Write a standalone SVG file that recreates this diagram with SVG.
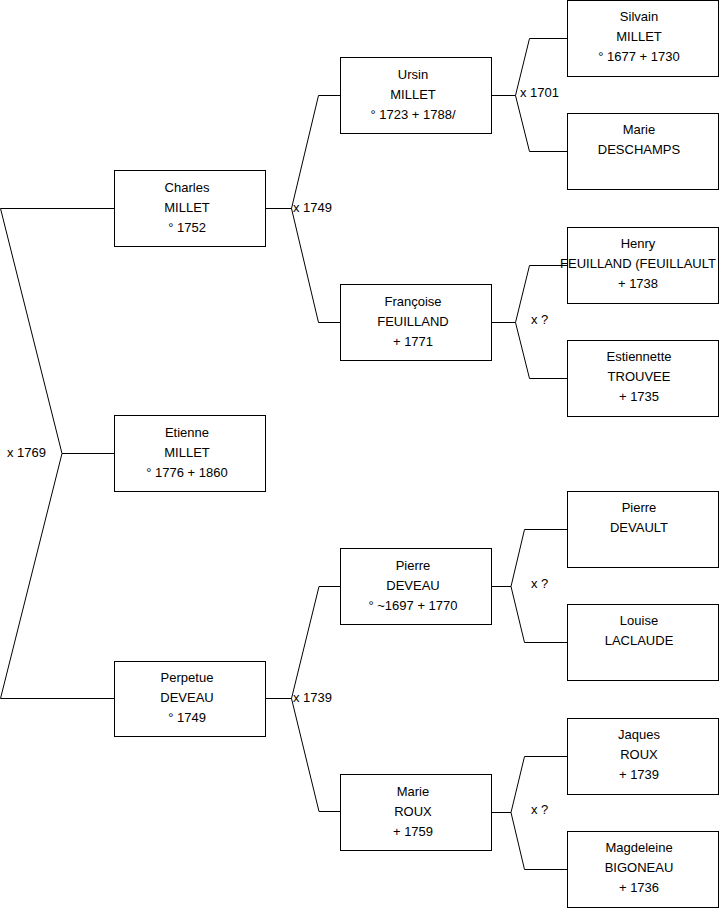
<svg xmlns="http://www.w3.org/2000/svg" width="719" height="908" viewBox="0 0 719 908">
<style>
rect.box{fill:#fff;stroke:#000;stroke-width:1}
.c{fill:none;stroke:#000;stroke-width:1}
text{font-family:"Liberation Sans",Arial,sans-serif;font-size:13px;fill:#000}
.n text{text-anchor:middle}
</style>
<rect width="719" height="908" fill="#fff"/>
<g id="connectors">
<polyline class="c" points="114,208.5 0.5,208.5 62,453.5 0.5,698.5 114,698.5"/>
<line class="c" x1="62" y1="453.5" x2="114" y2="453.5"/>
<polyline class="c" points="340,95.5 318.5,95.5 291.5,208.5 318.5,322.5 340,322.5"/>
<line class="c" x1="265" y1="208.5" x2="291.5" y2="208.5"/>
<polyline class="c" points="340,586.5 319,586.5 291.5,698.5 319,811.5 340,811.5"/>
<line class="c" x1="265" y1="698.5" x2="291.5" y2="698.5"/>
<polyline class="c" points="567,38.5 529.5,38.5 515.5,95.5 529.5,151.5 567,151.5"/>
<line class="c" x1="491" y1="95.5" x2="515.5" y2="95.5"/>
<polyline class="c" points="567,265.5 529.5,265.5 515.5,322.5 529.5,378.5 567,378.5"/>
<line class="c" x1="491" y1="322.5" x2="515.5" y2="322.5"/>
<polyline class="c" points="567,529.5 524.5,529.5 511,586.5 524.5,642.5 567,642.5"/>
<line class="c" x1="491" y1="586.5" x2="511" y2="586.5"/>
<polyline class="c" points="567,756.5 524.5,756.5 511,812.5 524.5,869.5 567,869.5"/>
<line class="c" x1="491" y1="812.5" x2="511" y2="812.5"/>
<text x="7" y="457">x 1769</text>
<text x="293" y="212">x 1749</text>
<text x="293" y="702">x 1739</text>
<text x="520" y="97">x 1701</text>
<text x="531" y="324">x ?</text>
<text x="531" y="588">x ?</text>
<text x="531" y="814">x ?</text>
</g>
<g id="etienne" class="n"><rect class="box" x="114.5" y="415.5" width="151" height="76"/><text x="187" y="437">Etienne</text><text x="187" y="457">MILLET</text><text x="187" y="477">° 1776 + 1860</text></g>
<g id="charles" class="n"><rect class="box" x="114.5" y="170.5" width="151" height="76"/><text x="187" y="192">Charles</text><text x="187" y="212">MILLET</text><text x="187" y="232">° 1752</text></g>
<g id="perpetue" class="n"><rect class="box" x="114.5" y="661.5" width="151" height="75"/><text x="187" y="682">Perpetue</text><text x="187" y="702">DEVEAU</text><text x="187" y="722">° 1749</text></g>
<g id="ursin" class="n"><rect class="box" x="340.5" y="57.5" width="151" height="76"/><text x="413" y="79">Ursin</text><text x="413" y="99">MILLET</text><text x="413" y="119">° 1723 + 1788/</text></g>
<g id="francoise" class="n"><rect class="box" x="340.5" y="284.5" width="151" height="76"/><text x="413" y="306">Françoise</text><text x="413" y="326">FEUILLAND</text><text x="413" y="346">+ 1771</text></g>
<g id="pierre-deveau" class="n"><rect class="box" x="340.5" y="548.5" width="151" height="76"/><text x="413" y="570">Pierre</text><text x="413" y="590">DEVEAU</text><text x="413" y="610">° ~1697 + 1770</text></g>
<g id="marie-roux" class="n"><rect class="box" x="340.5" y="774.5" width="151" height="76"/><text x="413" y="796">Marie</text><text x="413" y="816">ROUX</text><text x="413" y="836">+ 1759</text></g>
<g id="silvain" class="n"><rect class="box" x="567.5" y="0.5" width="151" height="76"/><text x="639" y="21">Silvain</text><text x="639" y="41">MILLET</text><text x="639" y="61">° 1677 + 1730</text></g>
<g id="marie-deschamps" class="n"><rect class="box" x="567.5" y="113.5" width="151" height="76"/><text x="639" y="134">Marie</text><text x="639" y="154">DESCHAMPS</text></g>
<g id="henry" class="n"><rect class="box" x="567.5" y="227.5" width="151" height="76"/><text x="638" y="248">Henry</text><text x="638" y="268">FEUILLAND (FEUILLAULT</text><text x="638" y="288">+ 1738</text></g>
<g id="estiennette" class="n"><rect class="box" x="567.5" y="340.5" width="151" height="76"/><text x="639" y="361">Estiennette</text><text x="639" y="381">TROUVEE</text><text x="639" y="401">+ 1735</text></g>
<g id="pierre-devault" class="n"><rect class="box" x="567.5" y="491.5" width="151" height="76"/><text x="639" y="512">Pierre</text><text x="639" y="532">DEVAULT</text></g>
<g id="louise" class="n"><rect class="box" x="567.5" y="604.5" width="151" height="76"/><text x="639" y="625">Louise</text><text x="639" y="645">LACLAUDE</text></g>
<g id="jaques" class="n"><rect class="box" x="567.5" y="718.5" width="151" height="76"/><text x="639" y="739">Jaques</text><text x="639" y="759">ROUX</text><text x="639" y="779">+ 1739</text></g>
<g id="magdeleine" class="n"><rect class="box" x="567.5" y="831.5" width="151" height="76"/><text x="639" y="852">Magdeleine</text><text x="639" y="872">BIGONEAU</text><text x="639" y="892">+ 1736</text></g>
</svg>
